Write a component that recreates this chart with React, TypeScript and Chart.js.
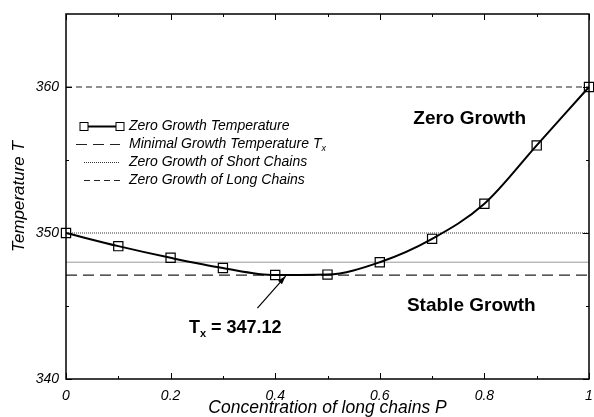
import React, { useEffect, useRef } from "react";
import { Chart, registerables } from "chart.js";

Chart.register(...registerables);

const concentrations = [0, 0.1, 0.2, 0.3, 0.4, 0.5, 0.6, 0.7, 0.8, 0.9, 1.0];
const zeroGrowthTemp = [350.0, 349.1, 348.3, 347.6, 347.12, 347.15, 348.0, 349.6, 352.0, 356.0, 360.0];
const minimalGrowthTemp = 347.12;
const shortChainsTemp = 350.0;
const longChainsTemp = 360.0;
const referenceTemp = 348.0;

const xTicksMajor = [0, 0.2, 0.4, 0.6, 0.8, 1];
const xTicksMinor = [0.1, 0.3, 0.5, 0.7, 0.9];
const yTicksMajor = [340, 350, 360];
const yTicksMinor = [345, 355];

const legendLabels = [
  "Zero Growth Temperature",
  "Minimal Growth Temperature T",
  "Zero Growth of Short Chains",
  "Zero Growth of Long Chains",
];

const regionLabels = [
  { text: "Zero Growth", x: 0.772, y: 357.8 },
  { text: "Stable Growth", x: 0.775, y: 345.05 },
];
const txLabel = { x: 0.235, y: 343.5, value: "347.12" };
const arrowFrom = { x: 0.366, y: 344.85 };
const arrowTo = { x: 0.42, y: 347.05 };

const FONT = "'Liberation Sans', Arial, Helvetica, sans-serif";

const framePlugin = {
  id: "frame",
  afterDatasetsDraw(chart: any) {
    const { ctx, chartArea: a, scales } = chart;
    const xs = scales.x;
    const ys = scales.y;
    ctx.save();
    ctx.strokeStyle = "#000";
    ctx.lineWidth = 1.5;
    ctx.setLineDash([]);
    ctx.strokeRect(a.left, a.top, a.right - a.left, a.bottom - a.top);
    ctx.lineWidth = 1;
    const tick = (vals: number[], len: number) => {
      vals.forEach((v) => {
        const px = Math.round(xs.getPixelForValue(v)) + 0.5;
        ctx.beginPath();
        ctx.moveTo(px, a.bottom);
        ctx.lineTo(px, a.bottom - len);
        ctx.moveTo(px, a.top);
        ctx.lineTo(px, a.top + len);
        ctx.stroke();
      });
    };
    const ytick = (vals: number[], len: number) => {
      vals.forEach((v) => {
        const py = Math.round(ys.getPixelForValue(v)) + 0.5;
        ctx.beginPath();
        ctx.moveTo(a.left, py);
        ctx.lineTo(a.left + len, py);
        ctx.moveTo(a.right, py);
        ctx.lineTo(a.right - len, py);
        ctx.stroke();
      });
    };
    tick(xTicksMajor, 6);
    tick(xTicksMinor, 3);
    ytick(yTicksMajor, 6);
    ytick(yTicksMinor, 3);

    // Legend
    const lx0 = 84;
    const lx1 = 120;
    const ly0 = 126;
    const dy = 18;
    const ds = chart.data.datasets;
    const legendDs = [ds[0], ds[1], ds[2], ds[3]];
    ctx.font = `italic 14px ${FONT}`;
    ctx.textBaseline = "middle";
    ctx.textAlign = "left";
    legendDs.forEach((d: any, i: number) => {
      const y = ly0 + i * dy + 0.5;
      ctx.save();
      ctx.strokeStyle = d.borderColor;
      ctx.lineWidth = d.borderWidth;
      ctx.setLineDash(d.borderDash || []);
      ctx.beginPath();
      ctx.moveTo(i === 1 ? 76 : lx0, y);
      ctx.lineTo(lx1, y);
      ctx.stroke();
      ctx.restore();
      if (i === 0) {
        ctx.lineWidth = 1;
        [lx0, lx1].forEach((px) => {
          ctx.fillStyle = "#fff";
          ctx.fillRect(px - 4, y - 4, 8, 8);
          ctx.strokeRect(px - 4, y - 4, 8, 8);
        });
      }
      ctx.fillStyle = "#000";
      ctx.fillText(legendLabels[i], 129, y);
      if (i === 1) {
        const w = ctx.measureText(legendLabels[i]).width;
        ctx.font = `italic 9px ${FONT}`;
        ctx.fillText("x", 129 + w, y + 4);
        ctx.font = `italic 14px ${FONT}`;
      }
    });

    // Region labels
    ctx.font = `bold 19px ${FONT}`;
    ctx.fillStyle = "#000";
    regionLabels.forEach((r) => {
      ctx.textAlign = "center";
      ctx.fillText(r.text, xs.getPixelForValue(r.x), ys.getPixelForValue(r.y));
    });

    // Tx label
    ctx.textAlign = "left";
    let tx = xs.getPixelForValue(txLabel.x);
    const ty = ys.getPixelForValue(txLabel.y);
    ctx.font = `bold 18px ${FONT}`;
    ctx.fillText("T", tx, ty);
    tx += ctx.measureText("T").width;
    ctx.font = `bold 11px ${FONT}`;
    ctx.fillText("x", tx, ty + 6);
    tx += ctx.measureText("x").width;
    ctx.font = `bold 18px ${FONT}`;
    ctx.fillText(" = " + txLabel.value, tx, ty);

    // Arrow
    const ax0 = xs.getPixelForValue(arrowFrom.x);
    const ay0 = ys.getPixelForValue(arrowFrom.y);
    const ax1 = xs.getPixelForValue(arrowTo.x);
    const ay1 = ys.getPixelForValue(arrowTo.y);
    ctx.strokeStyle = "#000";
    ctx.lineWidth = 1.2;
    ctx.beginPath();
    ctx.moveTo(ax0, ay0);
    ctx.lineTo(ax1, ay1);
    ctx.stroke();
    const ang = Math.atan2(ay1 - ay0, ax1 - ax0);
    const hl = 9;
    ctx.beginPath();
    ctx.moveTo(ax1, ay1);
    ctx.lineTo(ax1 - hl * Math.cos(ang - 0.3), ay1 - hl * Math.sin(ang - 0.3));
    ctx.lineTo(ax1 - hl * Math.cos(ang + 0.3), ay1 - hl * Math.sin(ang + 0.3));
    ctx.closePath();
    ctx.fillStyle = "#000";
    ctx.fill();
    ctx.restore();
  },
};

function hline(value: number) {
  return [
    { x: 0, y: value },
    { x: 1, y: value },
  ];
}

export default function App() {
  const ref = useRef<HTMLCanvasElement | null>(null);
  useEffect(() => {
    if (!ref.current) return;
    const chart = new Chart(ref.current, {
      type: "line",
      data: {
        datasets: [
          {
            label: legendLabels[0],
            data: concentrations.map((c, i) => ({ x: c, y: zeroGrowthTemp[i] })),
            borderColor: "#000",
            borderWidth: 2,
            tension: 0.4,
            cubicInterpolationMode: "monotone",
            pointStyle: "rect",
            pointRadius: 6.5,
            pointBorderWidth: 1.2,
            pointBackgroundColor: "rgba(255,255,255,0)",
            pointBorderColor: "#000",
            order: 0,
            clip: false,
          } as any,
          {
            label: legendLabels[1],
            data: hline(minimalGrowthTemp),
            borderColor: "#222",
            borderWidth: 1.2,
            borderDash: [11, 6],
            pointRadius: 0,
            order: 1,
          },
          {
            label: legendLabels[2],
            data: hline(shortChainsTemp),
            borderColor: "#333",
            borderWidth: 1,
            borderDash: [1, 1],
            pointRadius: 0,
            order: 1,
          },
          {
            label: legendLabels[3],
            data: hline(longChainsTemp),
            borderColor: "#222",
            borderWidth: 1.2,
            borderDash: [6, 4],
            pointRadius: 0,
            order: 1,
          },
          {
            label: "reference",
            data: hline(referenceTemp),
            borderColor: "#999",
            borderWidth: 1,
            pointRadius: 0,
            order: 2,
          },
        ],
      },
      options: {
        animation: false,
        responsive: false,
        layout: { autoPadding: false, padding: { top: 14, right: 5, left: 0, bottom: -2 } },
        plugins: { legend: { display: false }, tooltip: { enabled: false } },
        scales: {
          x: {
            type: "linear",
            min: 0,
            max: 1,
            grid: { display: false, drawTicks: false },
            border: { display: false },
            ticks: {
              stepSize: 0.2,
              includeBounds: false,
              padding: 9,
              color: "#000",
              font: { family: FONT, size: 14, style: "italic" },
              callback: (v: any) => (Math.abs(v) < 1e-9 ? "0" : Math.abs(v - 1) < 1e-9 ? "1" : Number(v).toFixed(1)),
            },
            title: {
              display: true,
              text: "Concentration of long chains P",
              color: "#000",
              font: { family: FONT, size: 17.5, style: "italic" },
              padding: { top: 0, bottom: 0 },
            },
            afterFit: (s: any) => {
              s.height = 40;
              s.paddingLeft = 0;
              s.paddingRight = 0;
            },
          },
          y: {
            min: 340,
            max: 365,
            grid: { display: false, drawTicks: false },
            border: { display: false },
            ticks: {
              stepSize: 10,
              includeBounds: false,
              padding: 7,
              color: "#000",
              font: { family: FONT, size: 14, style: "italic" },
            },
            title: {
              display: true,
              text: "Temperature T",
              color: "#000",
              font: { family: FONT, size: 17, style: "italic" },
              padding: { top: 9, bottom: 0 },
            },
            afterFit: (s: any) => {
              s.width = 66;
              s.paddingTop = 0;
              s.paddingBottom = 0;
            },
          },
        },
      },
      plugins: [framePlugin],
    });
    return () => chart.destroy();
  }, []);
  return (
    <div style={{ position: "fixed", left: 0, top: 0, width: 594, height: 417, background: "#fff" }}>
      <canvas ref={ref} width={594} height={417} style={{ width: 594, height: 417, display: "block" }} />
    </div>
  );
}
